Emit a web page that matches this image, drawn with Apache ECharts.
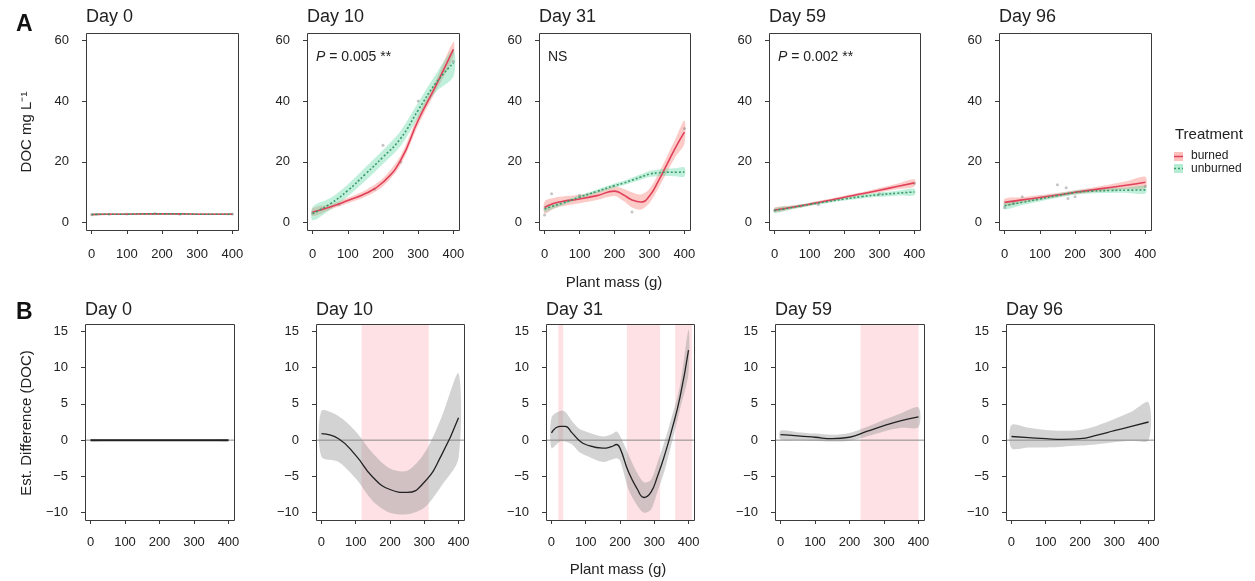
<!DOCTYPE html>
<html>
<head>
<meta charset="utf-8">
<script src="https://cdn.jsdelivr.net/npm/echarts@6/dist/echarts.min.js"></script>
<style>html,body{margin:0;padding:0;background:#fff}#c{width:1255px;height:581px}</style>
</head>
<body>
<div id="c"></div>
<script>
// ---------- DATA ----------
const dayLabels = ['Day 0', 'Day 10', 'Day 31', 'Day 59', 'Day 96'];
const topTicksY = [0, 20, 40, 60];
const botTicksY = [-10, -5, 0, 5, 10, 15];
const massTicks = [0, 100, 200, 300, 400];

const xTop = [0, 50, 100, 150, 200, 250, 300, 350, 400];
const xTop31 = [0, 25, 50, 100, 150, 200, 225, 250, 275, 300, 325, 350, 375, 400];

// Panel A: fitted DOC (mg/L) with confidence ribbons
const d0Burned      = [2.7, 2.8, 2.8, 2.9, 2.9, 2.9, 2.8, 2.8, 2.8];
const d0BurnedLo    = [2.4, 2.6, 2.6, 2.7, 2.7, 2.7, 2.6, 2.6, 2.5];
const d0BurnedHi    = [3.0, 3.0, 3.0, 3.1, 3.1, 3.1, 3.0, 3.0, 3.1];
const d0Unburned    = [2.7, 2.8, 2.8, 2.9, 2.9, 2.9, 2.8, 2.8, 2.8];
const d0UnburnedLo  = [2.4, 2.6, 2.6, 2.7, 2.7, 2.7, 2.6, 2.6, 2.5];
const d0UnburnedHi  = [3.0, 3.0, 3.0, 3.1, 3.1, 3.1, 3.0, 3.0, 3.1];

const d10Burned     = [3.5, 5.2, 7.3, 9.6, 13.3, 20.5, 33.7, 45.0, 57.0];
const d10BurnedLo   = [2.2, 4.3, 6.4, 8.5, 12.0, 19.0, 32.0, 43.2, 54.5];
const d10BurnedHi   = [4.8, 6.1, 8.2, 10.7, 14.6, 22.0, 35.4, 46.8, 59.5];
const d10Unburned   = [3.0, 6.2, 10.6, 16.0, 21.6, 27.7, 37.0, 45.9, 52.5];
const d10UnburnedLo = [0.8, 4.3, 8.6, 13.8, 19.3, 25.2, 34.5, 43.0, 48.0];
const d10UnburnedHi = [5.2, 8.1, 12.6, 18.2, 23.9, 30.2, 39.5, 48.8, 57.0];

const d31Burned     = [5.0, 6.3, 7.0, 7.8, 8.9, 10.4, 9.2, 7.5, 6.8, 8.8, 13.6, 19.2, 24.8, 29.8];
const d31BurnedLo   = [3.0, 4.5, 5.4, 6.4, 7.5, 8.8, 7.2, 5.0, 4.3, 6.5, 11.2, 16.6, 21.8, 26.0];
const d31BurnedHi   = [7.0, 8.1, 8.6, 9.2, 10.3, 12.0, 11.2, 10.0, 9.3, 11.1, 16.0, 21.8, 27.8, 33.6];
const d31Unburned   = [4.5, 5.5, 6.4, 8.4, 10.3, 12.2, 13.0, 14.0, 15.0, 16.0, 16.4, 16.6, 16.6, 16.7];
const d31UnburnedLo = [3.5, 4.7, 5.7, 7.8, 9.7, 11.5, 12.3, 13.2, 14.1, 15.0, 15.3, 15.4, 15.3, 15.2];
const d31UnburnedHi = [5.5, 6.3, 7.1, 9.0, 10.9, 12.9, 13.7, 14.8, 15.9, 17.0, 17.5, 17.8, 17.9, 18.2];

const d59Burned     = [4.2, 5.1, 6.1, 7.2, 8.4, 9.5, 10.7, 11.9, 13.1];
const d59BurnedLo   = [3.4, 4.5, 5.6, 6.7, 7.9, 9.0, 10.0, 11.0, 11.9];
const d59BurnedHi   = [5.0, 5.7, 6.6, 7.7, 8.9, 10.0, 11.4, 12.8, 14.3];
const d59Unburned   = [4.0, 5.0, 6.0, 6.9, 7.8, 8.6, 9.2, 9.7, 10.1];
const d59UnburnedLo = [3.2, 4.4, 5.5, 6.4, 7.3, 8.0, 8.5, 8.9, 9.0];
const d59UnburnedHi = [4.8, 5.6, 6.5, 7.4, 8.3, 9.2, 9.9, 10.5, 11.2];

const d96Burned     = [6.7, 7.5, 8.3, 9.1, 10.0, 10.8, 11.6, 12.4, 13.3];
const d96BurnedLo   = [5.5, 6.6, 7.5, 8.4, 9.3, 10.0, 10.6, 11.1, 11.5];
const d96BurnedHi   = [7.9, 8.4, 9.1, 9.8, 10.7, 11.6, 12.6, 13.7, 15.1];
const d96Unburned   = [5.6, 6.7, 7.8, 8.9, 9.9, 10.4, 10.6, 10.7, 10.8];
const d96UnburnedLo = [4.4, 5.8, 7.0, 8.2, 9.2, 9.7, 9.8, 9.8, 9.6];
const d96UnburnedHi = [6.8, 7.6, 8.6, 9.6, 10.6, 11.1, 11.4, 11.6, 12.0];

// raw observations (faint points)
const d0Points  = [[0, 2.6], [50, 2.8], [100, 2.9], [180, 3.0], [250, 2.8], [400, 2.9]];
const d10Points = [[0, 3.2], [25, 4.5], [75, 6.0], [175, 11.0], [200, 25.5], [250, 20.0], [300, 40.0], [400, 53.0]];
const d31Points = [[0, 2.5], [20, 9.5], [100, 9.0], [250, 3.5], [400, 31.0]];
const d59Points = [[0, 4.0], [25, 4.6], [75, 5.5], [125, 6.0], [300, 9.5], [400, 13.0]];
const d96Points = [[0, 5.0], [25, 6.5], [50, 8.5], [150, 12.5], [175, 11.5], [180, 8.0], [200, 8.5], [400, 12.0]];

// Panel B: estimated difference (burned - unburned) with CI and significant regions
const xBot = [0, 50, 100, 150, 200, 250, 300, 350, 400];
const xBot31 = [0, 25, 40, 60, 80, 100, 150, 175, 190, 200, 225, 250, 270, 290, 310, 330, 350, 375, 400];

const b0Diff = [0.0, 0.0, 0.0, 0.0, 0.0, 0.0, 0.0, 0.0, 0.0];
const b0Lo   = [-0.15, -0.1, -0.1, -0.1, -0.1, -0.1, -0.1, -0.1, -0.15];
const b0Hi   = [0.15, 0.1, 0.1, 0.1, 0.1, 0.1, 0.1, 0.1, 0.15];
const b0Sig  = [];

const b10Diff = [0.9, 0.2, -2.1, -5.1, -6.8, -7.2, -5.8, -2.1, 3.1];
const b10Lo   = [-2.3, -3.0, -5.3, -8.4, -10.0, -10.2, -9.3, -6.3, -2.5];
const b10Hi   = [4.0, 3.3, 1.2, -1.8, -3.9, -4.2, -1.8, 3.1, 9.2];
const b10Sig  = [[117, 313]];

const b31Diff = [1.0, 1.9, 1.9, 1.0, 0.0, -0.6, -1.1, -0.9, -0.6, -1.1, -4.4, -6.7, -7.9, -7.2, -4.9, -2.1, 1.2, 5.9, 12.4];
const b31Lo   = [-1.1, -0.2, -0.2, -0.6, -1.6, -2.1, -3.0, -2.7, -2.5, -2.8, -6.8, -9.0, -10.0, -9.6, -7.0, -4.2, -0.6, 4.2, 9.2];
const b31Hi   = [3.1, 4.0, 3.9, 2.6, 1.6, 1.2, 0.5, 0.8, 1.2, 0.6, -2.0, -4.5, -5.8, -5.5, -3.0, -0.2, 3.0, 7.5, 15.2];
const b31Sig  = [[20, 34], [220, 317], [361, 410]];

const b59Diff = [0.75, 0.6, 0.4, 0.2, 0.4, 1.2, 2.0, 2.7, 3.2];
const b59Lo   = [0.1, 0.0, -0.1, -0.2, -0.1, 0.5, 1.2, 1.7, 1.8];
const b59Hi   = [1.3, 1.1, 0.9, 0.75, 1.0, 1.8, 2.8, 3.7, 4.5];
const b59Sig  = [[232, 400]];

const b96Diff = [0.5, 0.35, 0.2, 0.1, 0.2, 0.7, 1.3, 1.9, 2.5];
const b96Lo   = [-1.1, -1.0, -1.0, -0.9, -0.75, -0.55, -0.3, -0.1, 0.0];
const b96Hi   = [2.1, 1.7, 1.4, 1.3, 1.4, 2.0, 2.9, 3.9, 5.2];
const b96Sig  = [];

const pLabels = ['', '{i|P} = 0.005 **', 'NS', '{i|P} = 0.002 **', ''];

// ---------- BUILD ----------
const topPanels = [
  {x: xTop,   b: d0Burned,  bl: d0BurnedLo,  bh: d0BurnedHi,  u: d0Unburned,  ul: d0UnburnedLo,  uh: d0UnburnedHi,  pts: d0Points},
  {x: xTop,   b: d10Burned, bl: d10BurnedLo, bh: d10BurnedHi, u: d10Unburned, ul: d10UnburnedLo, uh: d10UnburnedHi, pts: d10Points},
  {x: xTop31, b: d31Burned, bl: d31BurnedLo, bh: d31BurnedHi, u: d31Unburned, ul: d31UnburnedLo, uh: d31UnburnedHi, pts: d31Points},
  {x: xTop,   b: d59Burned, bl: d59BurnedLo, bh: d59BurnedHi, u: d59Unburned, ul: d59UnburnedLo, uh: d59UnburnedHi, pts: d59Points},
  {x: xTop,   b: d96Burned, bl: d96BurnedLo, bh: d96BurnedHi, u: d96Unburned, ul: d96UnburnedLo, uh: d96UnburnedHi, pts: d96Points}
];
const botPanels = [
  {x: xBot,   d: b0Diff,  lo: b0Lo,  hi: b0Hi,  sig: b0Sig},
  {x: xBot,   d: b10Diff, lo: b10Lo, hi: b10Hi, sig: b10Sig},
  {x: xBot31, d: b31Diff, lo: b31Lo, hi: b31Hi, sig: b31Sig},
  {x: xBot,   d: b59Diff, lo: b59Lo, hi: b59Hi, sig: b59Sig},
  {x: xBot,   d: b96Diff, lo: b96Lo, hi: b96Hi, sig: b96Sig}
];

const FONT = '"Liberation Sans", Arial, Helvetica, sans-serif';
const INK = '#222';
const AX = '#3a3a3a';

// layout (pixel boxes)
const topBoxes = [[86, 238], [307, 459], [539, 690], [769, 920], [999, 1151]];
const topY = [33, 230];
const botBoxes = [[85, 234], [316, 464], [546, 694], [775, 924], [1006, 1154]];
const botY = [324, 520];

const grids = [], xAxes = [], yAxes = [], series = [], graphics = [];

function zip(xs, ys) { return xs.map((x, i) => [x, ys[i]]); }
function bandSeries(gi, xs, lo, hi, fill, z) {
  const rows = xs.map((x, i) => [x, lo[i], hi[i]]);
  return {
    type: 'custom', xAxisIndex: gi, yAxisIndex: gi, z: z, silent: true, clip: false,
    data: rows,
    renderItem: function (params, api) {
      if (params.dataIndex !== 0) return;
      const up = [], dn = [];
      for (const r of rows) { up.push(api.coord([r[0], r[2]])); dn.push(api.coord([r[0], r[1]])); }
      return {type: 'polygon', shape: {points: up.concat(dn.slice().reverse()), smooth: 0.3}, style: {fill: fill, stroke: null}};
    }
  };
}
function regionSeries(gi, regs, yLo, yHi) {
  return {
    type: 'custom', xAxisIndex: gi, yAxisIndex: gi, z: 1, silent: true, clip: false,
    data: regs,
    renderItem: function (params, api) {
      const a = api.coord([api.value(0), yHi]);
      const b = api.coord([api.value(1), yLo]);
      return {type: 'rect', shape: {x: a[0], y: a[1], width: b[0] - a[0], height: b[1] - a[1]}, style: {fill: 'rgba(253,205,210,0.6)'}};
    }
  };
}
function zeroLineSeries(gi, xLo, xHi) {
  return {
    type: 'custom', xAxisIndex: gi, yAxisIndex: gi, z: 3, silent: true, clip: false,
    data: [[0]],
    renderItem: function (params, api) {
      const a = api.coord([xLo, 0]);
      const b = api.coord([xHi, 0]);
      return {type: 'line', shape: {x1: a[0], y1: a[1], x2: b[0], y2: b[1]}, style: {stroke: '#8a8a8a', lineWidth: 1}};
    }
  };
}

function addPanel(gi, box, yb, ymin, ymax, yint, padY, xMargin) {
  const [l, r] = box; const [t, b] = yb;
  const w = r - l, h = b - t;
  const ix = w * 0.04 / 1.08;
  const iy = padY(h);
  grids.push({left: l + ix, top: t + iy, width: w - 2 * ix, height: h - 2 * iy, containLabel: false});
  xAxes.push({
    gridIndex: gi, type: 'value', min: 0, max: 400, interval: 100, offset: iy,
    axisLine: {show: true, onZero: false, lineStyle: {color: AX, width: 1}},
    axisTick: {show: true, length: 4, lineStyle: {color: AX}},
    axisLabel: {margin: xMargin, color: INK, fontFamily: FONT, fontSize: 13},
    splitLine: {show: false}
  });
  yAxes.push({
    gridIndex: gi, type: 'value', min: ymin, max: ymax, interval: yint, offset: ix,
    axisLine: {show: true, onZero: false, lineStyle: {color: AX, width: 1}},
    axisTick: {show: true, length: 4, lineStyle: {color: AX}},
    axisLabel: {margin: 17, color: INK, fontFamily: FONT, fontSize: 13,
      formatter: v => (v < 0 ? '\u2212' + Math.abs(v) : String(v))},
    splitLine: {show: false}
  });
  graphics.push({type: 'rect', z: 100, silent: true, shape: {x: l + 0.5, y: t + 0.5, width: w, height: h},
    style: {fill: 'none', stroke: AX, lineWidth: 1}});
}

// top row
topPanels.forEach((p, i) => {
  const gi = i;
  addPanel(gi, topBoxes[i], topY, 0, 60, 20, h => h * 0.04 / 1.08, 18);
  series.push(bandSeries(gi, p.x, p.bl, p.bh, 'rgba(248,118,109,0.38)', 2));
  series.push(bandSeries(gi, p.x, p.ul, p.uh, 'rgba(90,215,160,0.38)', 3));
  series.push({type: 'scatter', xAxisIndex: gi, yAxisIndex: gi, z: 4, silent: true, data: p.pts,
    symbolSize: 3, itemStyle: {color: 'rgba(120,120,120,0.55)'}});
  series.push({type: 'line', name: 'burned', xAxisIndex: gi, yAxisIndex: gi, z: 5, clip: false, silent: true,
    data: zip(p.x, p.b), smooth: true, showSymbol: false, lineStyle: {color: '#e0405a', width: 1.6}});
  series.push({type: 'line', name: 'unburned', xAxisIndex: gi, yAxisIndex: gi, z: 6, clip: false, silent: true,
    data: zip(p.x, p.u), smooth: true, showSymbol: false, lineStyle: {color: '#3a9a6a', width: 1.6, type: [2, 2]}});
  graphics.push({type: 'text', silent: true, style: {text: dayLabels[i], x: topBoxes[i][0], y: 17,
    font: '18px ' + FONT, fill: INK, textVerticalAlign: 'middle', textAlign: 'left'}});
  if (pLabels[i]) {
    graphics.push({type: 'text', silent: true, z: 50, style: {text: pLabels[i], x: topBoxes[i][0] + 9, y: 57,
      font: '14px ' + FONT, fill: INK, textVerticalAlign: 'middle', textAlign: 'left',
      rich: {i: {fontStyle: 'italic', fontSize: 14, fontFamily: FONT, fill: INK}}}});
  }
});

// bottom row
botPanels.forEach((p, i) => {
  const gi = 5 + i;
  addPanel(gi, botBoxes[i], botY, -10, 15, 5, h => h / 27, 16);
  series.push(regionSeries(gi, p.sig, -11, 16));
  series.push(bandSeries(gi, p.x, p.lo, p.hi, 'rgba(150,150,150,0.42)', 2));
  series.push(zeroLineSeries(gi, -16, 416));
  series.push({type: 'line', xAxisIndex: gi, yAxisIndex: gi, z: 5, clip: false, silent: true,
    data: zip(p.x, p.d), smooth: true, showSymbol: false, lineStyle: {color: '#222', width: i === 0 ? 2 : 1.3}});
  graphics.push({type: 'text', silent: true, style: {text: dayLabels[i], x: botBoxes[i][0], y: 310,
    font: '18px ' + FONT, fill: INK, textVerticalAlign: 'middle', textAlign: 'left'}});
});

// panel letters & axis titles
graphics.push({type: 'text', silent: true, style: {text: 'A', x: 16, y: 25, font: 'bold 23px ' + FONT, fill: '#111', textVerticalAlign: 'middle'}});
graphics.push({type: 'text', silent: true, style: {text: 'B', x: 16, y: 313, font: 'bold 23px ' + FONT, fill: '#111', textVerticalAlign: 'middle'}});
graphics.push({type: 'text', silent: true, x: 27, y: 132, rotation: Math.PI / 2,
  style: {text: 'DOC mg L\u207B\u00B9', x: 0, y: 0, font: '15px ' + FONT, fill: INK, textAlign: 'center', textVerticalAlign: 'middle'}});
graphics.push({type: 'text', silent: true, x: 27, y: 423, rotation: Math.PI / 2,
  style: {text: 'Est. Difference (DOC)', x: 0, y: 0, font: '15px ' + FONT, fill: INK, textAlign: 'center', textVerticalAlign: 'middle'}});
graphics.push({type: 'text', silent: true, style: {text: 'Plant mass (g)', x: 614, y: 283, font: '15px ' + FONT, fill: INK, textAlign: 'center', textVerticalAlign: 'middle'}});
graphics.push({type: 'text', silent: true, style: {text: 'Plant mass (g)', x: 618, y: 570, font: '15px ' + FONT, fill: INK, textAlign: 'center', textVerticalAlign: 'middle'}});

// legend
graphics.push({type: 'text', silent: true, style: {text: 'Treatment', x: 1175, y: 135, font: '15px ' + FONT, fill: INK, textVerticalAlign: 'middle'}});
graphics.push({type: 'rect', silent: true, shape: {x: 1174, y: 152, width: 9, height: 9}, style: {fill: 'rgba(248,118,109,0.45)'}});
graphics.push({type: 'line', silent: true, shape: {x1: 1174, y1: 156.5, x2: 1183, y2: 156.5}, style: {stroke: '#e0405a', lineWidth: 1.5}});
graphics.push({type: 'rect', silent: true, shape: {x: 1174, y: 164, width: 9, height: 9}, style: {fill: 'rgba(90,215,160,0.45)'}});
graphics.push({type: 'line', silent: true, shape: {x1: 1174, y1: 168.5, x2: 1183, y2: 168.5}, style: {stroke: '#3a9a6a', lineWidth: 1.5, lineDash: [2, 2]}});
graphics.push({type: 'text', silent: true, style: {text: 'burned', x: 1191, y: 156, font: '12px ' + FONT, fill: INK, textVerticalAlign: 'middle'}});
graphics.push({type: 'text', silent: true, style: {text: 'unburned', x: 1191, y: 168.5, font: '12px ' + FONT, fill: INK, textVerticalAlign: 'middle'}});

const chart = echarts.init(document.getElementById('c'), null, {renderer: 'canvas'});
chart.setOption({
  animation: false,
  backgroundColor: '#fff',
  grid: grids, xAxis: xAxes, yAxis: yAxes, series: series,
  graphic: {elements: graphics}
});
</script>
</body>
</html>
